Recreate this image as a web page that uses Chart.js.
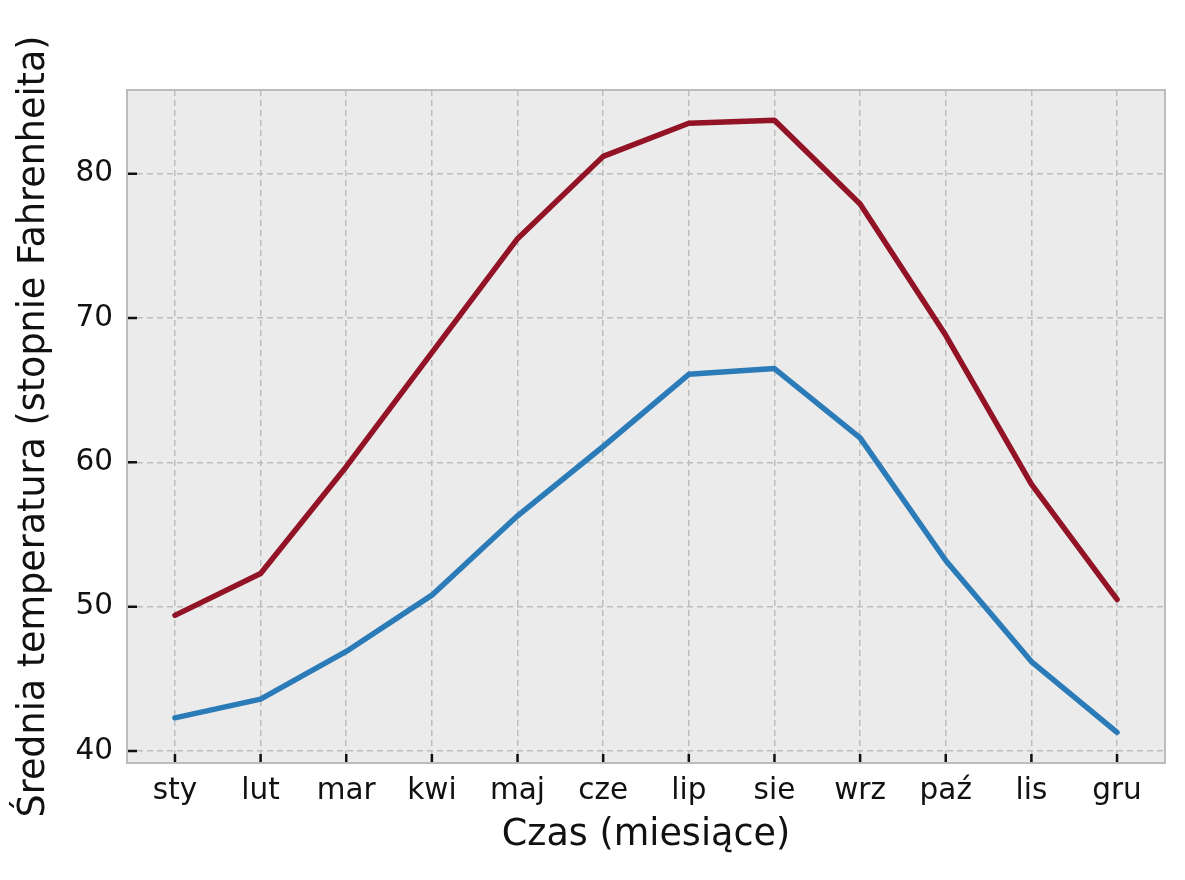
<!DOCTYPE html>
<html>
<head>
<meta charset="utf-8">
<title>Średnia temperatura</title>
<script src="https://cdn.jsdelivr.net/npm/chart.js"></script>
<style>
  html, body { margin: 0; padding: 0; background: #fff; }
  #wrap { width: 1185px; height: 880px; }
</style>
</head>
<body>
<div id="wrap"><canvas id="myChart" width="1185" height="880"></canvas></div>
<script>
// miesiące i temperatury
var months = ['sty', 'lut', 'mar', 'kwi', 'maj', 'cze', 'lip', 'sie', 'wrz', 'paź', 'lis', 'gru'];
var highTemps = [49.4, 52.3, 59.7, 67.6, 75.5, 81.2, 83.5, 83.7, 77.9, 68.8, 58.5, 50.5];
var lowTemps = [42.3, 43.6, 46.9, 50.8, 56.3, 61.1, 66.1, 66.5, 61.7, 53.2, 46.2, 41.3];
var yTicks = [40, 50, 60, 70, 80];

var FONT = "'DejaVu Sans', sans-serif";

function toPoints(values) {
    return values.map(function (v, i) { return { x: i, y: v }; });
}

// tło, ramka i krótkie kreski skierowane do środka (jak w matplotlib)
var framePlugin = {
    id: 'frame',
    beforeDraw: function (chart) {
        var a = chart.chartArea, ctx = chart.ctx;
        ctx.save();
        ctx.fillStyle = '#ebebeb';
        ctx.fillRect(a.left, a.top, a.right - a.left, a.bottom - a.top);
        ctx.restore();
    },
    afterDraw: function (chart) {
        var a = chart.chartArea, ctx = chart.ctx;
        var xs = chart.scales.x, ys = chart.scales.y;
        ctx.save();
        ctx.strokeStyle = '#111';
        ctx.lineWidth = 2.5;
        ctx.beginPath();
        xs.ticks.forEach(function (t) {
            var px = xs.getPixelForValue(t.value);
            ctx.moveTo(px, a.bottom);
            ctx.lineTo(px, a.bottom - 9);
        });
        ys.ticks.forEach(function (t) {
            var py = ys.getPixelForValue(t.value);
            ctx.moveTo(a.left, py);
            ctx.lineTo(a.left + 10, py);
        });
        ctx.stroke();
        ctx.strokeStyle = '#bcbcbc';
        ctx.lineWidth = 2;
        ctx.strokeRect(a.left, a.top, a.right - a.left, a.bottom - a.top);
        ctx.restore();
    }
};

var ctxChart = document.getElementById('myChart').getContext('2d');
var myChart = new Chart(ctxChart, {
    type: 'line',
    data: {
        datasets: [{
            label: 'max',
            data: toPoints(highTemps),
            borderColor: '#921326',
            borderWidth: 5.5,
            pointRadius: 0,
            tension: 0,
            borderJoinStyle: 'round',
            borderCapStyle: 'round'
        }, {
            label: 'min',
            data: toPoints(lowTemps),
            borderColor: '#2b7bb9',
            borderWidth: 5.5,
            pointRadius: 0,
            tension: 0,
            borderJoinStyle: 'round',
            borderCapStyle: 'round'
        }]
    },
    options: {
        responsive: false,
        animation: false,
        layout: { padding: { top: 90, right: 20, left: 0, bottom: 0 } },
        plugins: {
            legend: { display: false },
            tooltip: { enabled: false }
        },
        scales: {
            x: {
                type: 'linear',
                min: -0.56,
                max: 11.56,
                afterBuildTicks: function (scale) {
                    scale.ticks = months.map(function (m, i) { return { value: i }; });
                },
                afterFit: function (scale) { scale.height = 117; },
                ticks: {
                    autoSkip: false,
                    maxRotation: 0,
                    padding: 11,
                    color: '#111',
                    font: { family: FONT, size: 29.5 },
                    callback: function (v) { return months[v]; }
                },
                grid: { color: '#bdbdbd', lineWidth: 1.5, drawTicks: false },
                border: { display: false, dash: [6, 4] },
                title: {
                    display: true,
                    text: 'Czas (miesiące)',
                    color: '#111',
                    font: { family: FONT, size: 36.5, lineHeight: 1 },
                    padding: { top: 0, bottom: 26 }
                }
            },
            y: {
                min: 39.17,
                max: 85.8,
                afterBuildTicks: function (scale) {
                    scale.ticks = yTicks.map(function (v) { return { value: v }; });
                },
                afterFit: function (scale) { scale.width = 127; },
                ticks: {
                    padding: 14,
                    color: '#111',
                    font: { family: FONT, size: 29.5 }
                },
                grid: { color: '#bdbdbd', lineWidth: 1.5, drawTicks: false },
                border: { display: false, dash: [6, 4] },
                title: {
                    display: true,
                    text: 'Średnia temperatura (stopnie Fahrenheita)',
                    color: '#111',
                    font: { family: FONT, size: 36.5, lineHeight: 1 },
                    padding: { top: 16, bottom: 0 }
                }
            }
        }
    },
    plugins: [framePlugin]
});
</script>
</body>
</html>
